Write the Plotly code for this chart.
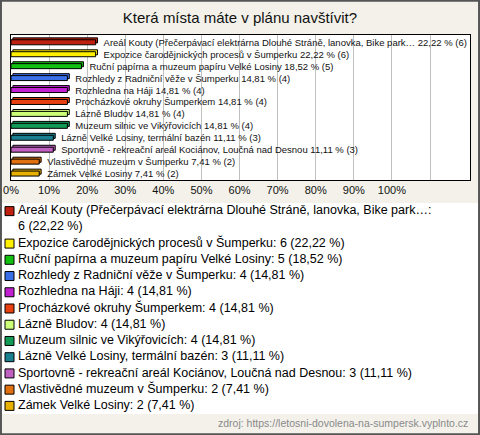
import plotly.graph_objects as go

# data
places = [
    "Areál Kouty (Přečerpávací elektrárna Dlouhé Stráně, lanovka, Bike park…",
    "Expozice čarodějnických procesů v Šumperku",
    "Ruční papírna a muzeum papíru Velké Losiny",
    "Rozhledy z Radniční věže v Šumperku",
    "Rozhledna na Háji",
    "Procházkové okruhy Šumperkem",
    "Lázně Bludov",
    "Muzeum silnic ve Vikýřovicích",
    "Lázně Velké Losiny, termální bazén",
    "Sportovně - rekreační areál Kociánov, Loučná nad Desnou",
    "Vlastivědné muzeum v Šumperku",
    "Zámek Velké Losiny",
]
counts = [6, 6, 5, 4, 4, 4, 4, 4, 3, 3, 2, 2]
percents = [22.22, 22.22, 18.52, 14.81, 14.81, 14.81, 14.81, 14.81, 11.11, 11.11, 7.41, 7.41]
colors = ["#c0200f", "#fff000", "#11c011", "#3a6fe8", "#c020d0", "#e84010",
          "#ccff77", "#119955", "#1a7f8f", "#c060c0", "#e07010", "#e8b000"]
tick_vals = [0, 10, 20, 30, 40, 50, 60, 70, 80, 90, 100, 110]
tick_text = ["0%", "10%", "20%", "30%", "40%", "50%", "60%", "70%", "80%", "90%", "100%", ""]

W, H = 480, 435
FONT = "Liberation Sans"


def fmt(p):
    return f"{p:.2f}".replace(".", ",")


idx = list(range(len(places)))
# leading no-break spaces keep the label clear of the bar's depth
bar_text = [f"\u00a0\u00a0\u00a0{n} {fmt(p)} % ({c})" for n, p, c in zip(places, percents, counts)]

# legend lines (long first entry wraps after the colon)
legend_items = []
for n, p, c in zip(places, percents, counts):
    full = f"{n}: {c} ({fmt(p)} %)"
    if len(full) > 75:
        legend_items.append([n + ":", f"{c} ({fmt(p)} %)"])
    else:
        legend_items.append([full])

swatch_y, line_y, line_txt = [], [], []
row = 0
for lines in legend_items:
    swatch_y.append(row)
    for t in lines:
        line_y.append(row)
        line_txt.append(t)
        row += 1

fig = go.Figure()

# 3d depth of the bars (same colour, nudged up and right)
fig.add_trace(go.Bar(
    y=idx, x=percents, base=0.5, orientation="h", width=0.42, offset=-0.36,
    marker=dict(color=colors, line=dict(color="black", width=1)),
    hoverinfo="skip", showlegend=False,
))
fig.add_trace(go.Bar(
    y=idx, x=percents, orientation="h", width=0.42, offset=-0.2,
    marker=dict(color=colors, line=dict(color="black", width=1)),
    text=bar_text, textposition="outside", constraintext="none", cliponaxis=False,
    textfont=dict(family=FONT, size=9.5, color="#111"),
    showlegend=False,
))

# hand made legend below the chart
fig.add_trace(go.Scatter(
    x=[9.5] * len(swatch_y), y=swatch_y, mode="markers",
    marker=dict(symbol="square", size=9, color=colors, line=dict(color="black", width=1)),
    xaxis="x2", yaxis="y2", showlegend=False, hoverinfo="skip",
))
fig.add_trace(go.Scatter(
    x=[18] * len(line_y), y=line_y, mode="text", text=line_txt,
    textposition="middle right", textfont=dict(family=FONT, size=12.5, color="black"),
    xaxis="x2", yaxis="y2", showlegend=False, hoverinfo="skip", cliponaxis=False,
))

fig.update_layout(
    width=W, height=H,
    margin=dict(l=0, r=0, t=0, b=0),
    paper_bgcolor="#f3f1ea",
    plot_bgcolor="white",
    barmode="overlay",
    font=dict(family=FONT, color="black"),
    title=dict(text="Která místa máte v plánu navštívit?", x=0.5, xanchor="center",
               y=1 - 18 / H, yanchor="middle", font=dict(size=15, color="#111")),
    xaxis=dict(domain=[11 / W, 470 / W], range=[0, 120.5], tickvals=tick_vals, ticktext=tick_text,
               showgrid=True, gridcolor="#c0c0c0", gridwidth=1, zeroline=False,
               showline=True, linecolor="black", linewidth=1, mirror=True,
               ticks="", tickfont=dict(size=11, color="#111"), automargin=False),
    yaxis=dict(domain=[1 - 180 / H, 1 - 35 / H], range=[11.55, -0.6], showticklabels=False,
               showgrid=False, zeroline=False, showline=True, linecolor="black", linewidth=1,
               mirror=True, ticks="", automargin=False),
    xaxis2=dict(domain=[0, 1], range=[0, W], visible=False, anchor="y2"),
    yaxis2=dict(domain=[1 - 414 / H, 1 - 203 / H], range=[row - 0.5, -0.5], visible=False, anchor="x2"),
    annotations=[dict(text="zdroj: https://letosni-dovolena-na-sumpersk.vyplnto.cz",
                      xref="paper", yref="paper", x=470 / W, y=1 - 423 / H,
                      xanchor="right", yanchor="middle", showarrow=False,
                      font=dict(size=10.5, color="#8a8a8a"))],
    shapes=[dict(type="rect", xref="paper", yref="paper", x0=0.002, x1=0.998, y0=0.002, y1=0.998,
                 line=dict(color="#555", width=2))],
)

# the page's default body margin would push the 480x435 figure off the window
fig.write_html("out.html", config={"displayModeBar": False},
               post_script="document.body.style.margin='0px';")
